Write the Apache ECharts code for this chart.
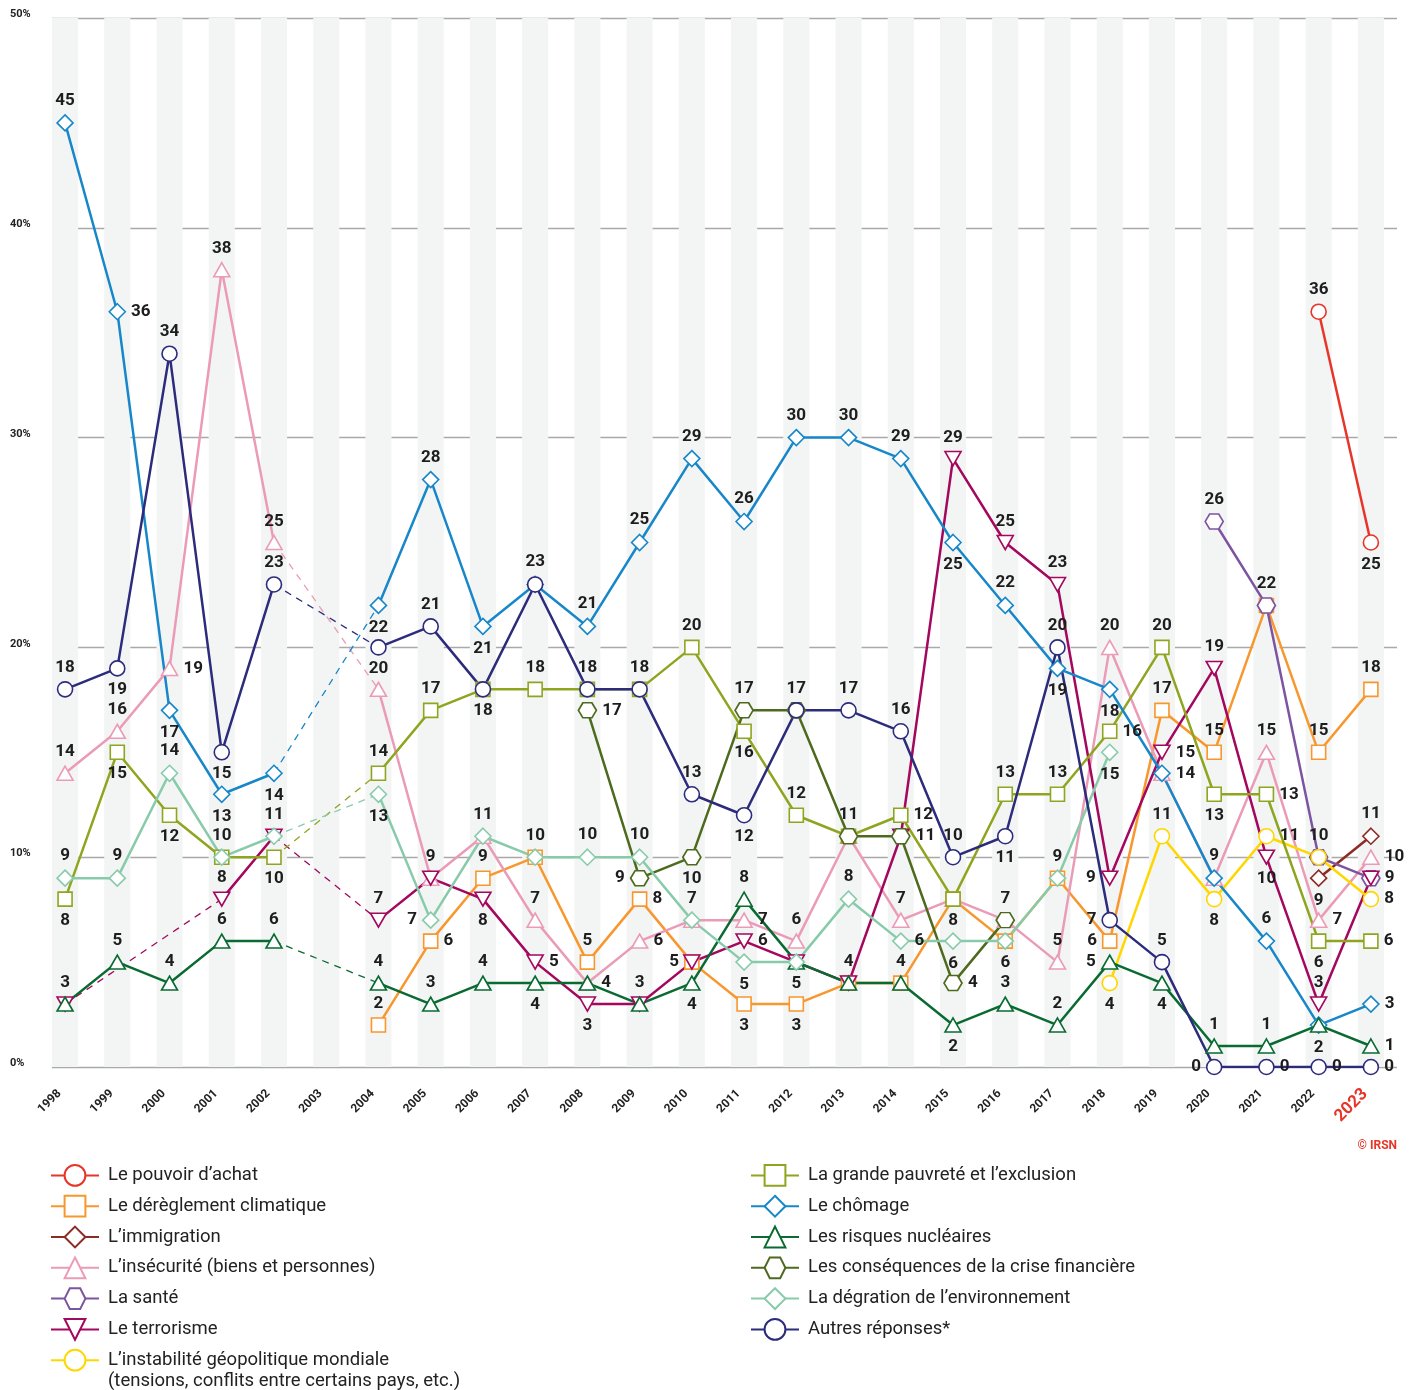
<!DOCTYPE html>
<html>
<head>
<meta charset="utf-8">
<script src="https://cdn.jsdelivr.net/npm/echarts@6/dist/echarts.min.js"></script>
<style>
  html, body { margin: 0; padding: 0; background: #fff; }
  #chart { width: 1416px; height: 1390px; }
</style>
</head>
<body>
<div id="chart"></div>
<script>
// --- data (null = pas de donnée cette année-là) ---
const years = [1998, 1999, 2000, 2001, 2002, 2003, 2004, 2005, 2006, 2007, 2008, 2009, 2010,
  2011, 2012, 2013, 2014, 2015, 2016, 2017, 2018, 2019, 2020, 2021, 2022, 2023];
const yTicks = [0, 10, 20, 30, 40, 50];

const pouvoirAchat = [null, null, null, null, null, null, null, null, null, null, null, null, null,
  null, null, null, null, null, null, null, null, null, null, null, 36, 25];
const climatique = [null, null, null, null, null, null, 2, 6, 9, 10, 5, 8, 5,
  3, 3, 4, 4, 8, 6, 9, 6, 17, 15, 22, 15, 18];
const immigration = [null, null, null, null, null, null, null, null, null, null, null, null, null,
  null, null, null, null, null, null, null, null, null, null, null, 9, 11];
const insecurite = [14, 16, 19, 38, 25, null, 18, 9, 11, 7, 4, 6, 7,
  7, 6, 11, 7, 8, 7, 5, 20, 14, 9, 15, 7, 10];
const sante = [null, null, null, null, null, null, null, null, null, null, null, null, null,
  null, null, null, null, null, null, null, null, null, 26, 22, 10, 9];
const terrorisme = [3, null, null, 8, 11, null, 7, 9, 8, 5, 3, 3, 5,
  6, 5, 4, 11, 29, 25, 23, 9, 15, 19, 10, 3, 9];
const instabilite = [null, null, null, null, null, null, null, null, null, null, null, null, null,
  null, null, null, null, null, null, null, 4, 11, 8, 11, 10, 8];
const pauvrete = [8, 15, 12, 10, 10, null, 14, 17, 18, 18, 18, 18, 20,
  16, 12, 11, 12, 8, 13, 13, 16, 20, 13, 13, 6, 6];
const chomage = [45, 36, 17, 13, 14, null, 22, 28, 21, 23, 21, 25, 29,
  26, 30, 30, 29, 25, 22, 19, 18, 14, 9, 6, 2, 3];
const nucleaire = [3, 5, 4, 6, 6, null, 4, 3, 4, 4, 4, 3, 4,
  8, 5, 4, 4, 2, 3, 2, 5, 4, 1, 1, 2, 1];
const crise = [null, null, null, null, null, null, null, null, null, null, 17, 9, 10,
  17, 17, 11, 11, 4, 7, null, null, null, null, null, null, null];
const environnement = [9, 9, 14, 10, 11, null, 13, 7, 11, 10, 10, 10, 7,
  5, 5, 8, 6, 6, 6, 9, 15, null, null, null, null, null];
const autres = [18, 19, 34, 15, 23, null, 20, 21, 18, 23, 18, 18, 13,
  12, 17, 17, 16, 10, 11, 20, 7, 5, 0, 0, 0, 0];

// position des étiquettes, une lettre par année
// t haut, b bas, r droite, l gauche, - aucune (valeur déjà affichée par une autre courbe)
const labelPos = {
  pouvoirAchat: '........................tb',
  climatique: '......' + 'trtttrlbbttbbtlttttt',
  immigration: '........................bt',
  insecurite: 'ttrtt.-tttrrtrt' + '-t--tt--trr',
  sante: '......................t---',
  terrorisme: '-..tt.t-brb--r---tttlrtbtr',
  instabilite: '....................btbrtr',
  pauvrete: 'bbbtb.ttbttttbttr-ttrtbrbr',
  chomage: 'trbbb.' + 'btb' + 'tttttttt' + 'btbbrttbr',
  nucleaire: 'ttttt.' + 'tttb-tbtb--bttlbtt-r',
  crise: '..........' + 'rlbt--rrt' + '.......',
  environnement: 'ttt--.' + 'bl--tt-b-trb--b' + '.....',
  autres: 'tbtbt.' + 'bt----tbttttbtltlrrr'
};

const SYM = {
  circle: ['circle', 15],
  square: ['rect', 14],
  diamond: ['path://M0,-1L1,0L0,1L-1,0Z', 16],
  triUp: ['triangle', [16, 14]],
  triDown: ['path://M-1,-1L1,-1L0,1Z', [16, 14]],
  hex: ['path://M-1,0L-0.5,-0.87L0.5,-0.87L1,0L0.5,0.87L-0.5,0.87Z', [18, 15]]
};

const seriesDefs = [
  { key: 'pouvoirAchat', name: 'Le pouvoir d’achat', vals: pouvoirAchat, color: '#e8352a', sym: 'circle' },
  { key: 'climatique', name: 'Le dérèglement climatique', vals: climatique, color: '#f8972d', sym: 'square' },
  { key: 'immigration', name: 'L’immigration', vals: immigration, color: '#8c2b25', sym: 'diamond' },
  { key: 'insecurite', name: 'L’insécurité (biens et personnes)', vals: insecurite, color: '#eb9bb7', sym: 'triUp' },
  { key: 'sante', name: 'La santé', vals: sante, color: '#7d54a0', sym: 'hex' },
  { key: 'terrorisme', name: 'Le terrorisme', vals: terrorisme, color: '#a3075e', sym: 'triDown' },
  { key: 'instabilite', name: 'L’instabilité géopolitique mondiale', vals: instabilite, color: '#ffd700', sym: 'circle' },
  { key: 'pauvrete', name: 'La grande pauvreté et l’exclusion', vals: pauvrete, color: '#8fa51f', sym: 'square' },
  { key: 'chomage', name: 'Le chômage', vals: chomage, color: '#1787c9', sym: 'diamond' },
  { key: 'nucleaire', name: 'Les risques nucléaires', vals: nucleaire, color: '#0a6b32', sym: 'triUp' },
  { key: 'crise', name: 'Les conséquences de la crise financière', vals: crise, color: '#4e6a1f', sym: 'hex' },
  { key: 'environnement', name: 'La dégration de l’environnement', vals: environnement, color: '#88cbaa', sym: 'diamond' },
  { key: 'autres', name: 'Autres réponses*', vals: autres, color: '#2c2b7c', sym: 'circle' }
];

const posName = { t: 'top', b: 'bottom', r: 'right', l: 'left' };

function gaps(vals) {
  const out = [];
  let last = -1;
  for (let i = 0; i < vals.length; i++) {
    if (vals[i] == null) continue;
    if (last >= 0 && i - last > 1) out.push([last, i]);
    last = i;
  }
  return out;
}

const series = [];
// pointillés pour les années manquantes
seriesDefs.forEach(d => {
  gaps(d.vals).forEach(([a, b]) => {
    series.push({
      type: 'line',
      name: d.name + ' (lacune)',
      data: [[years[a], d.vals[a]], [years[b], d.vals[b]]],
      symbol: 'none',
      silent: true,
      z: 1,
      lineStyle: { color: d.color, width: 1.3, type: [7, 6] }
    });
  });
});

seriesDefs.forEach(d => {
  const pos = labelPos[d.key];
  series.push({
    type: 'line',
    name: d.name,
    symbol: SYM[d.sym][0],
    symbolSize: SYM[d.sym][1],
    z: 3,
    lineStyle: { color: d.color, width: 2.5 },
    itemStyle: { color: '#fff', borderColor: d.color, borderWidth: 1.6 },
    label: {
      show: true,
      fontSize: 17,
      fontWeight: 'bold',
      fontFamily: 'Roboto',
      color: '#1d1d1d',
      distance: 5,
      formatter: p => p.value[1]
    },
    data: d.vals.map((v, i) => {
      if (v == null) return [years[i], null];
      const p = pos[i];
      return {
        value: [years[i], v],
        label: p === '-' ? { show: false } : { position: posName[p] }
      };
    })
  });
});

const legendText = { fontSize: 18.5, lineHeight: 22, color: '#222', fontFamily: 'Roboto', padding: [0, 0, 0, 4] };
const legendNames = seriesDefs.map(d => d.name);

const option = {
  animation: false,
  backgroundColor: '#fff',
  grid: { left: 52, right: 19, top: 18, bottom: 323 },
  xAxis: {
    type: 'value',
    min: 1997.75,
    max: 2023.5,
    interval: 0.5,
    axisLine: { show: false },
    axisTick: { show: false },
    splitLine: { show: false },
    splitArea: { show: true, areaStyle: { color: ['#f3f5f4', 'rgba(255,255,255,0)'] } },
    axisLabel: {
      customValues: years,
      rotate: 45,
      margin: 19,
      padding: [0, 8, 0, 0],
      formatter: v => (v === 2023 ? '{hl|' + v + '}' : '{yr|' + v + '}'),
      rich: {
        yr: { fontSize: 12, fontWeight: 'bold', color: '#222', fontFamily: 'Roboto' },
        hl: { fontSize: 17, fontWeight: 'bold', color: '#e8352a', fontFamily: 'Roboto' }
      }
    }
  },
  yAxis: {
    type: 'value',
    min: yTicks[0],
    max: yTicks[yTicks.length - 1],
    interval: 10,
    axisLine: { show: false },
    axisTick: { show: false },
    splitLine: { lineStyle: { color: '#a9a9a9', width: 1.4 } },
    axisLabel: {
      formatter: '{value}%',
      align: 'left',
      verticalAlign: 'bottom',
      lineHeight: 7,
      margin: 42,
      fontSize: 11,
      fontWeight: 'bold',
      color: '#222',
      fontFamily: 'Roboto'
    }
  },
  legend: [
    {
      orient: 'vertical', left: 45, top: 1159, height: 230, itemWidth: 48, itemHeight: 26, itemGap: 8,
      selectedMode: false, textStyle: legendText,
      data: legendNames.slice(0, 7)
    },
    {
      orient: 'vertical', left: 745, top: 1159, height: 230, itemWidth: 48, itemHeight: 26, itemGap: 8,
      selectedMode: false, textStyle: legendText,
      data: legendNames.slice(7)
    }
  ],
  graphic: [
    {
      type: 'text', right: 19, top: 1140,
      style: { text: '© IRSN', fill: '#e8352a', font: 'bold 12px Roboto' }
    },
    {
      type: 'text', left: 108, top: 1372,
      style: { text: '(tensions, conflits entre certains pays, etc.)', fill: '#222', font: '18.5px Roboto' }
    }
  ],
  series: series
};

const mychart = echarts.init(document.getElementById('chart'));
mychart.setOption(option);
</script>
</body>
</html>
